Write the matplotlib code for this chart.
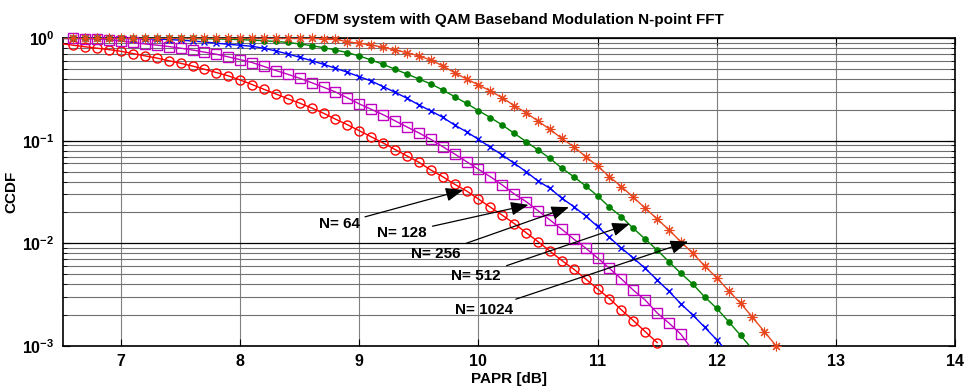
import numpy as np
import matplotlib
matplotlib.use('Agg')
import matplotlib.pyplot as plt
from matplotlib.ticker import LogLocator, NullFormatter

plt.rcParams['font.family'] = ['Liberation Sans', 'DejaVu Sans']
plt.rcParams['font.weight'] = 'bold'
plt.rcParams['mathtext.fontset'] = 'custom'
plt.rcParams['mathtext.rm'] = 'Liberation Sans:bold'
plt.rcParams['mathtext.bf'] = 'Liberation Sans:bold'

# PAPR grid in dB (0.1 dB steps), each curve uses the first len(values) points
papr_db = np.round(np.arange(6.5, 12.51, 0.1), 1)

ccdf_64 = [0.88, 0.85, 0.82, 0.795, 0.77,
           0.742, 0.705, 0.67, 0.638, 0.601, 0.567, 0.533, 0.496, 0.461, 0.428,
           0.39, 0.352, 0.316, 0.285, 0.256, 0.232, 0.208, 0.185, 0.162, 0.143,
           0.125, 0.109, 0.095, 0.082, 0.071, 0.0616, 0.0518, 0.0446, 0.0376, 0.0324,
           0.027, 0.0225, 0.0188, 0.0156, 0.0127, 0.0104, 0.0084, 0.0068, 0.0056, 0.0045,
           0.0036, 0.0029, 0.00225, 0.00177, 0.00138, 0.00108]

ccdf_128 = [0.99, 0.99, 0.985, 0.978, 0.962,
            0.935, 0.905, 0.875, 0.852, 0.826, 0.795, 0.764, 0.728, 0.694, 0.655,
            0.615, 0.577, 0.528, 0.482, 0.443, 0.405, 0.367, 0.331, 0.298, 0.261,
            0.228, 0.202, 0.179, 0.156, 0.136, 0.119, 0.103, 0.0874, 0.0742, 0.0625,
            0.0526, 0.0446, 0.037, 0.0303, 0.0255, 0.0208, 0.0169, 0.0137, 0.011, 0.009,
            0.0072, 0.0057, 0.0045, 0.0035, 0.0028, 0.0021, 0.00167, 0.0013, 0.0009]

ccdf_256 = [0.999, 0.999, 0.998, 0.997, 0.995,
            0.992, 0.988, 0.982, 0.975, 0.965, 0.952, 0.935, 0.915, 0.89, 0.868,
            0.85, 0.83, 0.794, 0.747, 0.699, 0.649, 0.601, 0.554, 0.507, 0.464,
            0.42, 0.381, 0.336, 0.296, 0.259, 0.223, 0.195, 0.169, 0.142, 0.122,
            0.103, 0.0862, 0.0726, 0.0602, 0.0499, 0.0405, 0.0344, 0.0275, 0.0228, 0.0185,
            0.0146, 0.0114, 0.009, 0.0072, 0.0057, 0.0044, 0.0034, 0.00257, 0.002, 0.00152,
            0.00115, 0.00085]

ccdf_512 = [1.0, 1.0, 1.0, 1.0, 0.999,
            0.999, 0.998, 0.997, 0.996, 0.994, 0.992, 0.989, 0.985, 0.98, 0.972,
            0.963, 0.953, 0.94, 0.925, 0.905, 0.874, 0.842, 0.805, 0.764, 0.72,
            0.668, 0.61, 0.554, 0.496, 0.446, 0.399, 0.357, 0.312, 0.268, 0.231,
            0.196, 0.168, 0.142, 0.118, 0.098, 0.0812, 0.0674, 0.0539, 0.0446, 0.0362,
            0.029, 0.0225, 0.0182, 0.014, 0.011, 0.0086, 0.0066, 0.0051, 0.004, 0.003,
            0.00233, 0.00173, 0.00127, 0.00093]

ccdf_1024 = [1.0, 1.0, 1.0, 1.0, 1.0,
             1.0, 1.0, 1.0, 1.0, 1.0, 1.0, 1.0, 1.0, 1.0, 1.0,
             1.0, 1.0, 1.0, 1.0, 1.0, 0.998, 0.995, 0.988, 0.97, 0.92,
             0.887, 0.855, 0.812, 0.764, 0.72, 0.668, 0.61, 0.535, 0.459, 0.399,
             0.349, 0.305, 0.262, 0.219, 0.187, 0.155, 0.129, 0.105, 0.0874, 0.0699,
             0.0567, 0.0446, 0.0357, 0.0281, 0.022, 0.0173, 0.0135, 0.0103, 0.008, 0.006,
             0.00463, 0.00346, 0.00261, 0.00191, 0.00138, 0.001]

labels = ['N= 64', 'N= 128', 'N= 256', 'N= 512', 'N= 1024']
# arrow tip (x, y) and label centre (x, y) in data coords
arrow_tips = [(9.874, 0.0331), (10.42, 0.0237), (10.76, 0.0225), (11.27, 0.0155), (11.76, 0.0104)]
label_pos = [(8.83, 0.01545), (9.36, 0.01262), (9.643, 0.00788), (9.982, 0.00481), (10.046, 0.00225)]

series = [ccdf_64, ccdf_128, ccdf_256, ccdf_512, ccdf_1024]
colors = ['#ff0000', '#c000c0', '#0000ff', '#008000', '#e8461e']
markers = ['o', 's', 'x', 'o', (8, 2, 0)]
msizes = [6.5, 7, 5, 3.8, 7]
mfaces = ['none', 'none', '#0000ff', '#008000', '#e8461e']
mwidths = [1.0, 1.0, 1.0, 1.0, 0.8]

fig = plt.figure(figsize=(9.65, 3.9), dpi=100)
ax = fig.add_axes([0.0653, 0.1128, 0.9243, 0.7898])

ax.set_yscale('log')
ax.set_xlim(6.513, 14)
ax.set_ylim(1e-3, 1)

for y, c, m, ms, mf, mw in zip(series, colors, markers, msizes, mfaces, mwidths):
    y = np.array(y)
    x = papr_db[:len(y)]
    ax.plot(x, y, '-', color=c, lw=1.0, zorder=3)
    keep = (y >= 1e-3) & (x > 6.55)
    ax.plot(x[keep], y[keep], ls='none', marker=m, ms=ms, mec=c, mfc=mf,
            mew=mw, clip_on=False, zorder=4)

for txt, tip, pos in zip(labels, arrow_tips, label_pos):
    ax.annotate(txt, xy=tip, xytext=pos, ha='center', va='center',
                fontsize=11, fontweight='bold', zorder=5,
                arrowprops=dict(arrowstyle='-|>,head_length=0.9,head_width=0.35',
                                color='black', lw=0.9, shrinkA=2, shrinkB=0,
                                mutation_scale=12))

ax.set_xticks([7, 8, 9, 10, 11, 12, 13, 14])
ax.set_xticklabels(['7', '8', '9', '10', '11', '12', '13', '14'], fontsize=11.5, fontweight='bold')
ax.set_yticks([1e-3, 1e-2, 1e-1, 1])
ax.set_yticklabels([r'$\mathbf{10^{-3}}$', r'$\mathbf{10^{-2}}$', r'$\mathbf{10^{-1}}$', r'$\mathbf{10^{0}}$'],
                   fontsize=11.5)
ax.yaxis.set_minor_locator(LogLocator(base=10, subs=np.arange(2, 10)))
ax.yaxis.set_minor_formatter(NullFormatter())

ax.grid(True, which='major', axis='y', color='#000000', lw=0.9)
ax.grid(True, which='minor', axis='y', color='#707070', lw=0.8)
ax.grid(True, which='major', axis='x', color='#808080', lw=0.8)

ax.tick_params(which='both', direction='in', top=True, right=True)
ax.tick_params(which='major', length=5, width=0.8, pad=6)
ax.tick_params(which='minor', length=3, width=0.6)
for s in ax.spines.values():
    s.set_linewidth(1.2)

ax.set_title('OFDM system with QAM Baseband Modulation N-point FFT',
             fontsize=11, fontweight='bold', pad=10)
ax.set_xlabel('PAPR [dB]', fontsize=11, fontweight='bold', labelpad=2)
ax.set_ylabel('CCDF', fontsize=11, fontweight='bold')
ax.yaxis.set_label_coords(-0.05, 0.5)

fig.savefig('out.png', dpi=100)
